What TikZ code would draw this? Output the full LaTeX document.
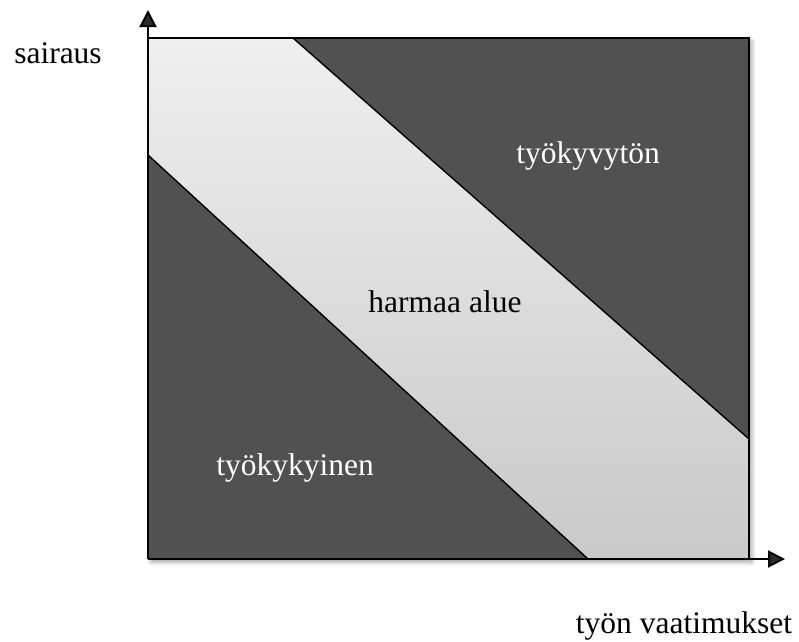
\documentclass[tikz,border=0pt]{standalone}
\usepackage{fontspec}
\setmainfont{Liberation Serif}
\usetikzlibrary{shadows.blur,arrows.meta}
\definecolor{darkarea}{HTML}{515151}
\definecolor{bandtop}{HTML}{EFEFEF}
\definecolor{bandbot}{HTML}{C9C9C9}
\begin{document}
\begin{tikzpicture}[x=1pt,y=-1pt,
  lbl/.style={font=\fontsize{31.5}{36}\selectfont, inner sep=0pt},
  axis/.style={line width=2pt, -{Triangle[length=17pt,width=17pt]}},
  diag/.style={line width=1.4pt, line cap=round}]
\useasboundingbox (0,0) rectangle (799,641);
\coordinate (tl) at (148,38);
\coordinate (tr) at (749,38);
\coordinate (br) at (749,559);
\coordinate (bl) at (148,559);
\coordinate (u1) at (293,38);
\coordinate (u2) at (749,439);
\coordinate (l1) at (148,155);
\coordinate (l2) at (588,559);
\coordinate (ytip) at (148,10);
\coordinate (xtip) at (785,559);
% shadow and band
\path[blur shadow={shadow xshift=3pt,shadow yshift=-3pt,shadow blur radius=4pt,shadow opacity=35}] (tl) rectangle (br);
\shade[top color=bandtop, bottom color=bandbot] (tl) rectangle (br);
% dark areas
\fill[darkarea] (u1) -- (tr) -- (u2) -- cycle;
\fill[darkarea] (l1) -- (bl) -- (l2) -- cycle;
% diagonals
\draw[diag] (u1) -- (u2);
\draw[diag] (l1) -- (l2);
% frame
\draw[line width=2pt] (bl) -- (tl) -- (tr) -- (br) -- (bl);
% axes
\draw[axis] (bl) -- (ytip);
\draw[axis] (bl) -- (xtip);
% labels
\node[lbl] (sairaus) at (58,53) {sairaus};
\node[lbl] (tyon) at (684,626) {työn vaatimukset};
\node[lbl, text=white] (tkvyton) at (588,156) {työkyvytön};
\node[lbl] (harmaa) at (445,302) {harmaa alue};
\node[lbl, text=white] (tkyinen) at (295,468) {työkykyinen};
\end{tikzpicture}
\end{document}
